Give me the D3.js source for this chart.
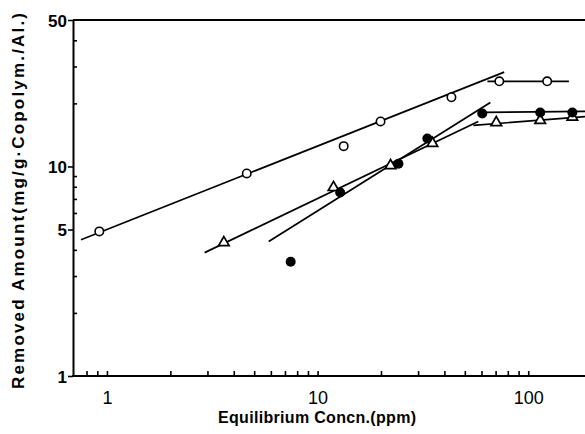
<!DOCTYPE html>
<html>
<head>
<meta charset="utf-8">
<script src="https://cdn.jsdelivr.net/npm/d3@7"></script>
<style>
  html, body { margin: 0; padding: 0; background: #fff; }
  svg { display: block; }
  text { font-family: "Liberation Sans", "DejaVu Sans", sans-serif; fill: #000; }
</style>
</head>
<body>
<svg id="chart" width="585" height="434"></svg>
<script>
// ---- data (log-log) ----
const openX   = [0.92, 4.61, 13.3, 19.9, 43.2, 72.9, 123];
const openY   = [4.9, 9.26, 12.5, 16.4, 21.4, 25.5, 25.5];
const filledX = [7.45, 12.8, 24.2, 33.2, 60.5, 114, 162];
const filledY = [3.51, 7.51, 10.3, 13.6, 17.9, 18.1, 18.1];
const triX    = [3.59, 11.9, 22.2, 35.1, 70.5, 114, 162];
const triY    = [4.33, 7.94, 10.1, 12.9, 16.2, 16.6, 17.2];

// fitted segments: [x1, y1, x2, y2]
const openFit       = [0.753, 4.47, 76.9, 28.2];
const openPlateau   = [64, 25.5, 156, 25.5];
const triFit        = [2.91, 3.88, 57.9, 16.4];
const triPlateau    = [54.9, 15.7, 186, 17.3];
const filledFit     = [5.86, 4.38, 66.1, 20.2];
const filledPlateau = [61.2, 18.1, 186, 18.3];

const xDomain = [0.69, 186];
const yDomain = [1, 50];
const xTickValues = [0.8, 0.9, 1, 2, 3, 4, 5, 6, 7, 8, 9, 10, 20, 30, 40, 50, 60, 70, 80, 90, 100];
const xTickLabels = [1, 10, 100];
const yMajorTicks = [1, 5, 10, 50];
const yMinorTicks = [2, 3, 4, 6, 7, 8, 9, 20, 30, 40];

const xTitle = "Equilibrium Concn.(ppm)";
const yTitle = "Removed Amount(mg/g\u00B7Copolym./Al.)";

// ---- layout ----
const svg = d3.select("#chart");
const mLeft = 73, mRight = 585, mTop = 20, mBottom = 376;

const x = d3.scaleLog().domain(xDomain).range([mLeft, mRight]);
const y = d3.scaleLog().domain(yDomain).range([mBottom, mTop]);

// frame: top border
svg.append("line")
  .attr("x1", mLeft).attr("x2", mRight).attr("y1", mTop).attr("y2", mTop)
  .attr("stroke", "#000").attr("stroke-width", 2);

// x axis (ticks point inward)
const xAxis = d3.axisBottom(x)
  .tickValues(xTickValues)
  .tickSizeInner(-5).tickSizeOuter(0)
  .tickFormat(d => xTickLabels.includes(d) ? String(d) : "");
const gx = svg.append("g").attr("transform", `translate(0,${mBottom})`).call(xAxis);
gx.select(".domain").attr("stroke-width", 2).attr("d", `M${mLeft - 1},0H${mRight}`);
gx.selectAll(".tick line").attr("stroke-width", 1.6);
gx.selectAll(".tick text")
  .attr("y", 28).attr("dy", 0)
  .style("font-size", "18px").style("font-family", "Liberation Sans, sans-serif");

// y axis minor (inward)
const yMinor = d3.axisLeft(y).tickValues(yMinorTicks).tickSizeInner(-4).tickSizeOuter(0).tickFormat("");
const gyMinor = svg.append("g").attr("transform", `translate(${mLeft},0)`).call(yMinor);
gyMinor.select(".domain").attr("stroke-width", 2);
gyMinor.selectAll(".tick line").attr("stroke-width", 1.6);

// y axis major (outward, labelled)
const yMajor = d3.axisLeft(y).tickValues(yMajorTicks).tickSizeInner(5).tickSizeOuter(0).tickFormat(d => String(d));
const gyMajor = svg.append("g").attr("transform", `translate(${mLeft},0)`).call(yMajor);
gyMajor.select(".domain").remove();
gyMajor.selectAll(".tick line").attr("stroke-width", 1.6);
gyMajor.selectAll(".tick text")
  .attr("x", -6).attr("dy", "0.36em")
  .style("font-size", "17px").style("font-weight", "bold")
  .style("font-family", "Liberation Sans, sans-serif");

// axis titles
svg.append("text")
  .attr("x", 317).attr("y", 423)
  .attr("text-anchor", "middle")
  .attr("textLength", 198).attr("lengthAdjust", "spacing")
  .style("font-size", "16px").style("font-weight", "bold")
  .text(xTitle);

svg.append("text")
  .attr("transform", "translate(24,201) rotate(-90)")
  .attr("text-anchor", "middle")
  .attr("textLength", 376).attr("lengthAdjust", "spacing")
  .style("font-size", "17px").style("font-weight", "bold")
  .text(yTitle);

// fitted lines
const segs = [openFit, openPlateau, triFit, triPlateau, filledFit, filledPlateau];
svg.append("g").selectAll("line").data(segs).join("line")
  .attr("x1", d => x(d[0])).attr("y1", d => y(d[1]))
  .attr("x2", d => x(d[2])).attr("y2", d => y(d[3]))
  .attr("stroke", "#000").attr("stroke-width", 1.7);

// markers
const openPts = openX.map((v, i) => [v, openY[i]]);
const filledPts = filledX.map((v, i) => [v, filledY[i]]);
const triPts = triX.map((v, i) => [v, triY[i]]);

svg.append("g").selectAll("circle").data(openPts).join("circle")
  .attr("cx", d => x(d[0])).attr("cy", d => y(d[1])).attr("r", 4.2)
  .attr("fill", "#fff").attr("stroke", "#000").attr("stroke-width", 1.6);

svg.append("g").selectAll("path").data(triPts).join("path")
  .attr("d", d3.symbol().type(d3.symbolTriangle).size(48))
  .attr("transform", d => `translate(${x(d[0])},${y(d[1])})`)
  .attr("fill", "#fff").attr("stroke", "#000").attr("stroke-width", 1.7);

svg.append("g").selectAll("circle").data(filledPts).join("circle")
  .attr("cx", d => x(d[0])).attr("cy", d => y(d[1])).attr("r", 5)
  .attr("fill", "#000");
</script>
</body>
</html>
